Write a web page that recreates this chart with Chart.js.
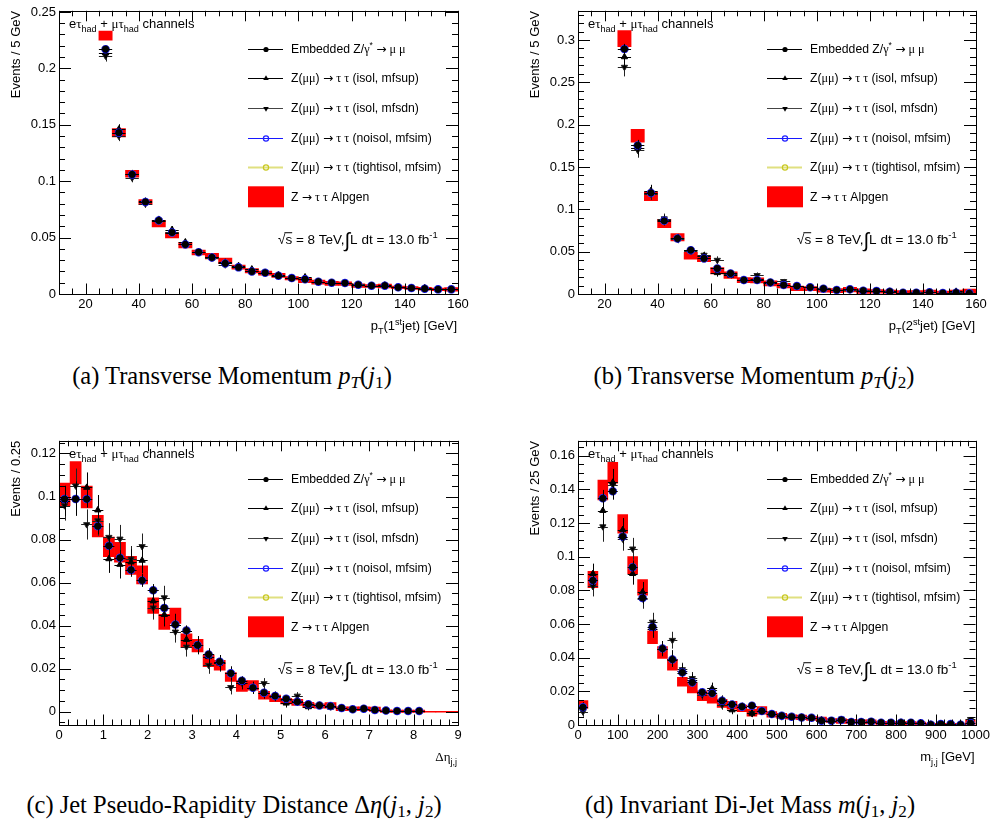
<!DOCTYPE html>
<html>
<head>
<meta charset="utf-8">
<script src="https://cdn.jsdelivr.net/npm/chart.js@4.4.1/dist/chart.umd.min.js"></script>
<style>
  body { margin: 0; background: #fff; width: 993px; height: 827px; position: relative; overflow: hidden; }
  canvas { position: absolute; }
  .cap { position: absolute; font-family: 'Liberation Serif', serif; font-size: 24.5px; line-height: 1; white-space: nowrap; transform: translate(-50%, -50%); color: #000; }
  .cap sub { font-size: 0.7em; vertical-align: baseline; position: relative; top: 0.25em; }
</style>
</head>
<body>
<canvas id="ca" width="496" height="345" style="left:0;top:0"></canvas>
<canvas id="cb" width="474" height="345" style="left:519px;top:0"></canvas>
<canvas id="cc" width="496" height="345" style="left:0;top:430px"></canvas>
<canvas id="cd" width="474" height="345" style="left:519px;top:430px"></canvas>

<div class="cap" style="left:232px;top:376px">(a) Transverse Momentum <i>p<sub>T</sub></i>(<i>j</i><sub>1</sub>)</div>
<div class="cap" style="left:754px;top:376px">(b) Transverse Momentum <i>p<sub>T</sub></i>(<i>j</i><sub>2</sub>)</div>
<div class="cap" style="left:234px;top:805px">(c) Jet Pseudo-Rapidity Distance Δ<i>η</i>(<i>j</i><sub>1</sub>, <i>j</i><sub>2</sub>)</div>
<div class="cap" style="left:750px;top:805px">(d) Invariant Di-Jet Mass <i>m</i>(<i>j</i><sub>1</sub>, <i>j</i><sub>2</sub>)</div>

<script>
// ---- bin centres ----
const ptBins = [27.5,32.5,37.5,42.5,47.5,52.5,57.5,62.5,67.5,72.5,77.5,82.5,87.5,92.5,97.5,102.5,107.5,112.5,117.5,122.5,127.5,132.5,137.5,142.5,147.5,152.5,157.5];
const detaBins = [0.125,0.375,0.625,0.875,1.125,1.375,1.625,1.875,2.125,2.375,2.625,2.875,3.125,3.375,3.625,3.875,4.125,4.375,4.625,4.875,5.125,5.375,5.625,5.875,6.125,6.375,6.625,6.875,7.125,7.375,7.625,7.875,8.125];
const detaAlpBins = [0.125,0.375,0.625,0.875,1.125,1.375,1.625,1.875,2.125,2.375,2.625,2.875,3.125,3.375,3.625,3.875,4.125,4.375,4.625,4.875,5.125,5.375,5.625,5.875,6.125,6.375,6.625,6.875,7.125,7.375,7.625,7.875,8.125,8.375,8.625,8.875];
const mjjBins = [12.5,37.5,62.5,87.5,112.5,137.5,162.5,187.5,212.5,237.5,262.5,287.5,312.5,337.5,362.5,387.5,412.5,437.5,462.5,487.5,512.5,537.5,562.5,587.5,612.5,637.5,662.5,687.5,712.5,737.5,762.5,787.5,812.5,837.5,862.5,887.5,912.5,937.5,962.5,987.5];

// ---- (a) pT leading jet ----
const aEmb = [0.217,0.143,0.106,0.0816,0.0651,0.0545,0.0439,0.0371,0.0324,0.0271,0.0236,0.0200,0.0188,0.0162,0.0141,0.0130,0.0109,0.0100,0.0097,0.0082,0.0074,0.0074,0.0059,0.0053,0.0047,0.0041,0.0041];
const aEmbErr = [0.003,0.0025,0.002,0.0018,0.0016,0.0015,0.0013,0.0012,0.0011,0.001,0.001,0.0009,0.0009,0.0008,0.0008,0.0007,0.0007,0.0007,0.0006,0.0006,0.0006,0.0006,0.0005,0.0005,0.0005,0.0005,0.0005];
const aUp = [0.214,0.146,0.106,0.082,0.066,0.057,0.046,0.037,0.033,0.028,0.025,0.022,0.019,0.017,0.014,0.015,0.011,0.010,0.010,0.008,0.0075,0.0078,0.006,0.0053,0.0055,0.0042,0.0043];
const aDn = [0.211,0.140,0.103,0.080,0.065,0.055,0.044,0.037,0.032,0.026,0.024,0.020,0.019,0.016,0.014,0.013,0.011,0.0098,0.0095,0.0085,0.0072,0.0072,0.0058,0.0052,0.0045,0.004,0.004];
const aTriErr = [0.005,0.0045,0.004,0.0035,0.003,0.003,0.0028,0.0025,0.0023,0.0022,0.002,0.002,0.0018,0.0017,0.0016,0.0015,0.0015,0.0014,0.0014,0.0013,0.0012,0.0012,0.0012,0.0011,0.0011,0.001,0.001];
const aAlp = [0.229,0.143,0.1066,0.0814,0.0624,0.0521,0.0433,0.0368,0.0336,0.0293,0.0238,0.0206,0.0185,0.0165,0.0139,0.0120,0.0106,0.0094,0.0092,0.0075,0.0071,0.0071,0.0059,0.0053,0.0047,0.0041,0.0040];
const aAlpErr = [0.0041,0.0037,0.003,0.0022,0.003,0.0024,0.0024,0.0022,0.0024,0.0025,0.0018,0.002,0.0018,0.0018,0.0015,0.0019,0.0018,0.0018,0.0015,0.0016,0.0012,0.0018,0.0012,0.0012,0.0012,0.0012,0.0016];

// ---- (b) pT subleading jet ----
const bEmb = [0.2894,0.1755,0.1194,0.0864,0.0656,0.0518,0.0420,0.0302,0.0243,0.0165,0.0165,0.0137,0.0106,0.0094,0.0079,0.0063,0.0047,0.0055,0.0039,0.0035,0.0027,0.0016,0.0016,0.0020,0.0012,0.0016,0.0008];
const bEmbErr = [0.006,0.005,0.004,0.0035,0.003,0.0028,0.0025,0.0022,0.002,0.0017,0.0017,0.0015,0.0013,0.0012,0.0011,0.001,0.0009,0.0009,0.0008,0.0008,0.0007,0.0006,0.0006,0.0006,0.0005,0.0006,0.0004];
const bUp = [0.280,0.173,0.122,0.087,0.066,0.052,0.045,0.025,0.022,0.017,0.018,0.013,0.011,0.009,0.008,0.006,0.005,0.0055,0.004,0.0035,0.003,0.0016,0.0016,0.002,0.0012,0.003,0.0012];
const bDn = [0.268,0.170,0.118,0.089,0.065,0.051,0.046,0.040,0.024,0.016,0.022,0.013,0.015,0.009,0.008,0.0065,0.005,0.005,0.0045,0.004,0.003,0.0014,0.0018,0.002,0.0014,0.002,0.0016];
const bTriErr = [0.011,0.009,0.007,0.006,0.005,0.0045,0.004,0.0045,0.0035,0.003,0.0035,0.0028,0.0028,0.0024,0.0022,0.002,0.0018,0.0018,0.0016,0.0015,0.0014,0.0012,0.0012,0.0012,0.001,0.0014,0.001];
const bAlp = [0.3016,0.1869,0.1154,0.0832,0.0671,0.0452,0.0416,0.0275,0.0224,0.0165,0.0161,0.0126,0.0099,0.0067,0.0063,0.0047,0.0039,0.0051,0.0035,0.0031,0.0027,0.0024,0.0024,0.0027,0.0020,0.0027,0.0035];
const bAlpErr = [0.0094,0.0075,0.0053,0.005,0.0043,0.004,0.0035,0.0037,0.0039,0.003,0.003,0.003,0.0027,0.0027,0.0024,0.0024,0.0024,0.0027,0.0027,0.002,0.002,0.0016,0.0016,0.002,0.0014,0.002,0.0024];

// ---- (c) delta eta ----
const cEmb = [0.0988,0.0988,0.0988,0.0862,0.0771,0.0715,0.0659,0.0610,0.0564,0.0482,0.0405,0.0377,0.0309,0.0266,0.0232,0.0178,0.0144,0.0111,0.0088,0.0073,0.0060,0.0046,0.0034,0.0029,0.0026,0.0017,0.0011,0.0014,0.0008,0.0005,0.0003,0.0003,0.0003];
const cEmbErr = [0.004,0.004,0.004,0.0037,0.0035,0.0034,0.0032,0.003,0.0029,0.0027,0.0025,0.0024,0.0021,0.002,0.0018,0.0016,0.0014,0.0013,0.0011,0.001,0.0009,0.0008,0.0007,0.0006,0.0006,0.0005,0.0004,0.0004,0.0003,0.0003,0.0002,0.0002,0.0002];
const cUp = [0.098,0.099,0.1042,0.0937,0.0710,0.0684,0.0695,0.0703,0.0514,0.0451,0.0405,0.0335,0.0309,0.0255,0.0225,0.0178,0.0134,0.0111,0.0085,0.0072,0.0039,0.0050,0.0022,0.0029,0.0020,0.0017,0.0011,0.0014,0.0008,0.0005,0.0003,0.0003,0.0003];
const cDn = [0.0958,0.105,0.087,0.0888,0.0811,0.0803,0.0710,0.0768,0.0483,0.0530,0.0371,0.0301,0.0309,0.0216,0.0225,0.0113,0.0134,0.0111,0.0131,0.0070,0.0052,0.0073,0.0030,0.0029,0.0023,0.0017,0.0011,0.0012,0.0008,0.0005,0.0003,0.0003,0.0003];
const cTriErr = [0.007,0.008,0.007,0.007,0.0065,0.0065,0.006,0.006,0.0055,0.0055,0.005,0.0045,0.0042,0.004,0.0038,0.0033,0.003,0.0028,0.0025,0.0022,0.002,0.0018,0.0016,0.0014,0.0013,0.0011,0.001,0.001,0.0008,0.0007,0.0005,0.0005,0.0005];
const cAlp = [0.1010,0.1110,0.0998,0.0862,0.0766,0.0741,0.0680,0.0636,0.0493,0.0417,0.0446,0.0330,0.0307,0.0236,0.0216,0.0161,0.0119,0.0122,0.0076,0.0062,0.0049,0.0043,0.0031,0.0026,0.0029,0.0014,0.0014,0.0014,0.0011,0.0003,0.0002,0.0002,0.0002,0,0,0];
const cAlpErr = [0.0052,0.0052,0.0051,0.005,0.0045,0.0046,0.0042,0.0042,0.0036,0.0035,0.0036,0.0032,0.0029,0.0027,0.0023,0.0021,0.0025,0.0022,0.0018,0.0015,0.0013,0.0014,0.0012,0.001,0.0013,0.0009,0.0009,0.0009,0.001,0.0006,0.0005,0.0005,0.0005,0.0002,0.0002,0.0002];

// ---- (d) di-jet mass ----
const dEmb = [0.0105,0.0859,0.1347,0.1389,0.1120,0.0938,0.0755,0.0583,0.0454,0.0389,0.0312,0.0253,0.0194,0.0188,0.0144,0.0122,0.0109,0.0115,0.0083,0.0065,0.0055,0.0049,0.0045,0.0043,0.0026,0.0026,0.0030,0.0018,0.0018,0.0020,0.0014,0.0014,0.0014,0.0014,0.0010,0.0002,0.0006,0.0006,0.0002,0.0010];
const dEmbErr = [0.002,0.004,0.005,0.005,0.0045,0.004,0.0035,0.0032,0.0028,0.0026,0.0023,0.0021,0.0018,0.0018,0.0016,0.0014,0.0013,0.0014,0.0012,0.001,0.0009,0.0009,0.0008,0.0008,0.0006,0.0006,0.0007,0.0005,0.0005,0.0006,0.0004,0.0004,0.0004,0.0004,0.0004,0.0002,0.0003,0.0003,0.0002,0.0004];
const dUp = [0.0105,0.0899,0.1274,0.1442,0.1160,0.0899,0.0790,0.0573,0.0454,0.0395,0.0322,0.0267,0.0190,0.0217,0.0148,0.0089,0.0109,0.0069,0.0083,0.0065,0.0055,0.0049,0.0045,0.0043,0.0030,0.0026,0.0032,0.0018,0.0020,0.0020,0.0014,0.0014,0.0016,0.0014,0.0010,0.0004,0.0006,0.0006,0.0004,0.0012];
const dDn = [0.0079,0.0824,0.1179,0.1428,0.1106,0.1047,0.0751,0.0612,0.0454,0.0504,0.0330,0.0277,0.0180,0.0207,0.0119,0.0119,0.0109,0.0069,0.0083,0.0065,0.0050,0.0049,0.0045,0.0040,0.0026,0.0024,0.0036,0.0016,0.0018,0.0024,0.0014,0.0014,0.0012,0.0012,0.0010,0.0004,0.0006,0.0004,0.0002,0.0034];
const dTriErr = [0.003,0.006,0.009,0.008,0.007,0.0065,0.006,0.0055,0.0045,0.005,0.004,0.0038,0.003,0.0035,0.0028,0.0025,0.0023,0.0022,0.002,0.0018,0.0016,0.0015,0.0014,0.0014,0.0012,0.0011,0.0013,0.001,0.001,0.001,0.0008,0.0008,0.0008,0.0008,0.0007,0.0005,0.0005,0.0005,0.0004,0.0012];
const dAlp = [0.0122,0.0865,0.1397,0.1499,0.1195,0.0950,0.0818,0.0521,0.0431,0.0358,0.0257,0.0221,0.0174,0.0154,0.0128,0.0117,0.0099,0.0073,0.0087,0.0063,0.0053,0.0047,0.0045,0.0039,0.0034,0.0026,0.0024,0.0022,0.0018,0.0018,0.0012,0.0011,0.0011,0.0011,0.0010,0.0004,0.0004,0.0004,0.0004,0.0016];
const dAlpErr = [0.0023,0.0049,0.0059,0.0062,0.0055,0.0051,0.0046,0.0037,0.0035,0.0032,0.0026,0.003,0.0029,0.0025,0.0024,0.0023,0.002,0.002,0.0022,0.0017,0.0016,0.0013,0.0014,0.0012,0.0013,0.0012,0.0014,0.0012,0.0012,0.0012,0.001,0.0009,0.0009,0.0009,0.0008,0.0006,0.0006,0.0006,0.0006,0.0014];

// ---- axis ticks ----
const ptXTicks = [20,40,60,80,100,120,140,160];
const aYTicks = [0,0.05,0.1,0.15,0.2,0.25];
const bYTicks = [0,0.05,0.1,0.15,0.2,0.25,0.3];
const cXTicks = [0,1,2,3,4,5,6,7,8,9];
const cYTicks = [0,0.02,0.04,0.06,0.08,0.1,0.12];
const dXTicks = [0,100,200,300,400,500,600,700,800,900,1000];
const dYTicks = [0,0.02,0.04,0.06,0.08,0.1,0.12,0.14,0.16];

const SANS = 'Liberation Sans', SERIF = 'Liberation Serif', ARROW = 'DejaVu Sans';

// legend labels: [text, 'sub'|'sup'|'', font]
const seriesNames = [
  [['Embedded Z/'],['γ','',SERIF],['*','sup'],[' '],['→','',ARROW],[' μ μ','',SERIF]],
  [['Z('],['μμ','',SERIF],[') '],['→','',ARROW],[' τ τ','',SERIF],[' (isol, mfsup)']],
  [['Z('],['μμ','',SERIF],[') '],['→','',ARROW],[' τ τ','',SERIF],[' (isol, mfsdn)']],
  [['Z('],['μμ','',SERIF],[') '],['→','',ARROW],[' τ τ','',SERIF],[' (noisol, mfsim)']],
  [['Z('],['μμ','',SERIF],[') '],['→','',ARROW],[' τ τ','',SERIF],[' (tightisol, mfsim)']],
  [['Z '],['→','',ARROW],[' τ τ','',SERIF],[' Alpgen']]
];

function rich(ctx, parts, x, y, size, align) {
  const items = parts.map(([t, pos, fam]) => {
    const s = (pos === 'sub' || pos === 'sup') ? size * 0.7 : (pos === 'big' ? size * 1.5 : size);
    const font = s + 'px "' + (fam || SANS) + '"';
    ctx.font = font;
    return { t, pos, font, w: ctx.measureText(t).width, s };
  });
  const total = items.reduce((a, b) => a + b.w, 0);
  let cx = align === 'right' ? x - total : x;
  ctx.textAlign = 'left';
  ctx.textBaseline = 'alphabetic';
  items.forEach(it => {
    ctx.font = it.font;
    let dy = 0;
    if (it.pos === 'sub') dy = size * 0.3;
    if (it.pos === 'sup') dy = -size * 0.42;
    if (it.pos === 'big') dy = size * 0.2;
    ctx.fillText(it.t, cx, y + dy);
    if (it.pos === 'ov') {
      ctx.beginPath();
      ctx.lineWidth = 1;
      ctx.moveTo(cx - 1, y - size * 0.82);
      ctx.lineTo(cx + it.w, y - size * 0.82);
      ctx.stroke();
    }
    cx += it.w;
  });
  return total;
}

function marker(ctx, kind, x, y, r, color) {
  ctx.save();
  ctx.beginPath();
  if (kind === 'circle') {
    ctx.arc(x, y, r, 0, Math.PI * 2);
    ctx.fillStyle = color; ctx.fill();
  } else if (kind === 'ring') {
    ctx.arc(x, y, r, 0, Math.PI * 2);
    ctx.strokeStyle = color; ctx.lineWidth = 1.2; ctx.stroke();
  } else {
    const s = kind === 'up' ? 1 : -1;
    ctx.moveTo(x, y - s * r);
    ctx.lineTo(x + r * 0.866, y + s * r * 0.5);
    ctx.lineTo(x - r * 0.866, y + s * r * 0.5);
    ctx.closePath();
    ctx.fillStyle = color; ctx.fill();
  }
  ctx.restore();
}

const errBars = {
  id: 'errBars',
  beforeDatasetDraw(chart, args) {
    const ds = chart.data.datasets[args.index];
    if (!ds.err) return;
    const { ctx, chartArea: a } = chart;
    const xs = chart.scales.x, ys = chart.scales.y;
    ctx.save();
    ctx.beginPath();
    ctx.rect(a.left, a.top, a.right - a.left, a.bottom - a.top);
    ctx.clip();
    ctx.strokeStyle = ds.pointBorderColor;
    ctx.lineWidth = 1;
    ctx.beginPath();
    ds.data.forEach((d, i) => {
      const px = Math.round(xs.getPixelForValue(d.x)) + 0.5;
      const py = Math.round(ys.getPixelForValue(d.y)) + 0.5;
      ctx.moveTo(xs.getPixelForValue(d.x - ds.hw), py);
      ctx.lineTo(xs.getPixelForValue(d.x + ds.hw), py);
      ctx.moveTo(px, ys.getPixelForValue(d.y - ds.err[i]));
      ctx.lineTo(px, ys.getPixelForValue(d.y + ds.err[i]));
    });
    ctx.stroke();
    ctx.restore();
  }
};

function decor(p) {
  return {
    id: 'decor' + p.id,
    afterDatasetsDraw(chart) {
      const { ctx, chartArea: a } = chart;
      const xs = chart.scales.x, ys = chart.scales.y;
      ctx.save();
      ctx.strokeStyle = '#000';
      ctx.lineWidth = 1;
      ctx.strokeRect(Math.round(a.left) + 0.5, Math.round(a.top) + 0.5, Math.round(a.right - a.left), Math.round(a.bottom - a.top));
      ctx.beginPath();
      // x ticks (bottom + top)
      const nx = Math.round((xs.max - xs.min) / p.xMinor);
      for (let k = 0; k <= nx; k++) {
        const v = xs.min + k * p.xMinor;
        const major = p.xTicks.some(t => Math.abs(t - v) < 1e-9);
        const len = major ? 10.5 : 5.5;
        const px = Math.round(xs.getPixelForValue(v)) + 0.5;
        ctx.moveTo(px, a.bottom); ctx.lineTo(px, a.bottom - len);
        ctx.moveTo(px, a.top); ctx.lineTo(px, a.top + len);
      }
      // y ticks (left + right)
      const k0 = Math.ceil(ys.min / p.yMinor - 1e-9), k1 = Math.floor(ys.max / p.yMinor + 1e-9);
      for (let k = k0; k <= k1; k++) {
        const v = k * p.yMinor;
        const major = p.yTicks.some(t => Math.abs(t - v) < 1e-9);
        const len = major ? 12 : 6;
        const py = Math.round(ys.getPixelForValue(v)) + 0.5;
        ctx.moveTo(a.left, py); ctx.lineTo(a.left + len, py);
        ctx.moveTo(a.right, py); ctx.lineTo(a.right - len, py);
      }
      ctx.stroke();
      ctx.restore();
    },
    afterDraw(chart) {
      const { ctx, chartArea: a } = chart;
      ctx.save();
      ctx.fillStyle = '#000';
      ctx.strokeStyle = '#000';
      // channel label
      rich(ctx, [['e'], ['τ', '', SERIF], ['had', 'sub'], [' + '], ['μτ', '', SERIF], ['had', 'sub'], [' channels']], a.left + 10, a.top + 17, 13, 'left');
      // legend
      const lx0 = a.left + 189, lx1 = a.left + 224, mx = a.left + 207, tx = a.left + 232;
      const styles = [
        { line: '#000', lw: 1, mk: 'circle', mc: '#000', r: 2.6 },
        { line: '#000', lw: 1, mk: 'up', mc: '#000', r: 3.2 },
        { line: '#444', lw: 1, mk: 'down', mc: '#000', r: 3.2 },
        { line: '#1818ff', lw: 1, mk: 'ring', mc: '#2020ff', r: 2.6 },
        { line: '#e0e080', lw: 2, mk: 'ring', mc: '#c8c820', r: 2.6 }
      ];
      seriesNames.forEach((parts, i) => {
        const ry = a.top + 38 + i * 29.6;
        if (i < 5) {
          const st = styles[i];
          ctx.beginPath();
          ctx.strokeStyle = st.line; ctx.lineWidth = st.lw;
          ctx.moveTo(lx0, Math.round(ry) + 0.5); ctx.lineTo(lx1, Math.round(ry) + 0.5);
          ctx.stroke();
          marker(ctx, st.mk, mx, Math.round(ry) + 0.5, st.r, st.mc);
        } else {
          ctx.fillStyle = '#ff0000';
          ctx.fillRect(lx0, ry - 10.5, 36, 21);
        }
        ctx.fillStyle = '#000';
        rich(ctx, parts, tx, ry + 4, 12.2, 'left');
      });
      // luminosity
      ctx.fillStyle = '#000'; ctx.strokeStyle = '#000';
      rich(ctx, [['√'], ['s', 'ov'], [' = 8 TeV,'], ['∫', 'big'], ['L dt = 13.0 fb'], ['-1', 'sup']], a.left + 219, a.top + 233, 13.5, 'left');
      // x title
      rich(ctx, p.xTitle, a.right - 1, a.bottom + 36, 13, 'right');
      // y title
      ctx.translate(20, a.top);
      ctx.rotate(-Math.PI / 2);
      rich(ctx, [[p.yTitle]], 0, 0, 13, 'right');
      ctx.restore();
    }
  };
}

const fmt = v => String(parseFloat(Number(v).toFixed(4)));

function makePanel(p) {
  const xy = (xs, ys) => xs.map((x, i) => ({ x, y: ys[i] }));
  const pts = (label, ys, err, st) => Object.assign({
    type: 'scatter', label, data: xy(p.x, ys), err, hw: p.hw,
    pointBorderWidth: 1, pointHoverRadius: 0
  }, st);
  const datasets = [
    {
      type: 'bar', label: 'Z → τ τ Alpgen',
      data: p.alpX.map((x, i) => ({ x, y: [p.alp[i] - p.alpErr[i], p.alp[i] + p.alpErr[i]] })),
      backgroundColor: '#ff0000', borderWidth: 0, barPercentage: 1, categoryPercentage: 1, order: 10
    },
    pts('tightisol', p.emb, null, { pointStyle: 'circle', pointRadius: 3.4, pointBorderColor: '#c8c820', pointBackgroundColor: 'rgba(0,0,0,0)', pointBorderWidth: 1.2, order: 6 }),
    pts('mfsdn', p.dn, p.triErr, { pointStyle: 'triangle', pointRotation: 180, pointRadius: 3.6, pointBorderColor: '#222', pointBackgroundColor: '#000', order: 5 }),
    pts('mfsup', p.up, p.triErr, { pointStyle: 'triangle', pointRadius: 3.6, pointBorderColor: '#000', pointBackgroundColor: '#000', order: 4 }),
    pts('noisol', p.emb, null, { pointStyle: 'circle', pointRadius: 3.6, pointBorderColor: '#1a1aff', pointBackgroundColor: 'rgba(0,0,0,0)', pointBorderWidth: 1.3, order: 3 }),
    pts('embedded', p.emb, p.embErr, { pointStyle: 'circle', pointRadius: 3.1, pointBorderColor: '#000', pointBackgroundColor: '#000', order: 1 })
  ];
  const tickFont = { family: SANS, size: 13 };
  return new Chart(document.getElementById(p.id), {
    type: 'bar',
    data: { datasets },
    options: {
      responsive: false, animation: false, devicePixelRatio: 1,
      layout: { padding: { left: 0, top: p.area.t, right: p.w - p.area.r, bottom: 0 } },
      plugins: { legend: { display: false }, tooltip: { enabled: false } },
      events: [],
      scales: {
        x: {
          type: 'linear', min: p.xMin, max: p.xMax, offset: false,
          grid: { display: false, drawTicks: false, offset: false }, border: { display: false },
          ticks: { font: tickFont, color: '#000', padding: 3, maxRotation: 0, autoSkip: false, callback: fmt },
          afterBuildTicks: s => { s.ticks = p.xTicks.map(v => ({ value: v })); },
          afterFit: s => { s.height = p.h - p.area.b; }
        },
        y: {
          type: 'linear', min: p.yMin, max: p.yMax,
          grid: { display: false, drawTicks: false }, border: { display: false },
          ticks: { font: tickFont, color: '#000', padding: 3, autoSkip: false, callback: fmt },
          afterBuildTicks: s => { s.ticks = p.yTicks.map(v => ({ value: v })); },
          afterFit: s => { s.width = p.area.l; }
        }
      }
    },
    plugins: [errBars, decor(p)]
  });
}

makePanel({
  id: 'ca', w: 496, h: 345, area: { l: 59, t: 10, r: 458, b: 294 },
  x: ptBins, alpX: ptBins, hw: 2.5,
  emb: aEmb, embErr: aEmbErr, up: aUp, dn: aDn, triErr: aTriErr, alp: aAlp, alpErr: aAlpErr,
  xMin: 10, xMax: 160, yMin: 0, yMax: 0.251, xTicks: ptXTicks, yTicks: aYTicks, xMinor: 5, yMinor: 0.01,
  yTitle: 'Events / 5 GeV',
  xTitle: [['p'], ['T', 'sub'], ['(1'], ['st', 'sup'], ['jet) [GeV]']]
});
makePanel({
  id: 'cb', w: 474, h: 345, area: { l: 59, t: 10, r: 457, b: 294 },
  x: ptBins, alpX: ptBins, hw: 2.5,
  emb: bEmb, embErr: bEmbErr, up: bUp, dn: bDn, triErr: bTriErr, alp: bAlp, alpErr: bAlpErr,
  xMin: 10, xMax: 160, yMin: 0, yMax: 0.3345, xTicks: ptXTicks, yTicks: bYTicks, xMinor: 5, yMinor: 0.01,
  yTitle: 'Events / 5 GeV',
  xTitle: [['p'], ['T', 'sub'], ['(2'], ['st', 'sup'], ['jet) [GeV]']]
});
makePanel({
  id: 'cc', w: 496, h: 345, area: { l: 59, t: 10, r: 458, b: 295 },
  x: detaBins, alpX: detaAlpBins, hw: 0.125,
  emb: cEmb, embErr: cEmbErr, up: cUp, dn: cDn, triErr: cTriErr, alp: cAlp, alpErr: cAlpErr,
  xMin: 0, xMax: 9, yMin: -0.0062, yMax: 0.1259, xTicks: cXTicks, yTicks: cYTicks, xMinor: 0.2, yMinor: 0.005,
  yTitle: 'Events / 0.25',
  xTitle: [['Δη', '', SERIF], ['j,j', 'sub']]
});
makePanel({
  id: 'cd', w: 474, h: 345, area: { l: 59, t: 10, r: 457, b: 295 },
  x: mjjBins, alpX: mjjBins, hw: 12.5,
  emb: dEmb, embErr: dEmbErr, up: dUp, dn: dDn, triErr: dTriErr, alp: dAlp, alpErr: dAlpErr,
  xMin: 0, xMax: 1000, yMin: 0, yMax: 0.1689, xTicks: dXTicks, yTicks: dYTicks, xMinor: 20, yMinor: 0.005,
  yTitle: 'Events / 25 GeV',
  xTitle: [['m'], ['j,j', 'sub'], [' [GeV]']]
});
</script>
</body>
</html>
